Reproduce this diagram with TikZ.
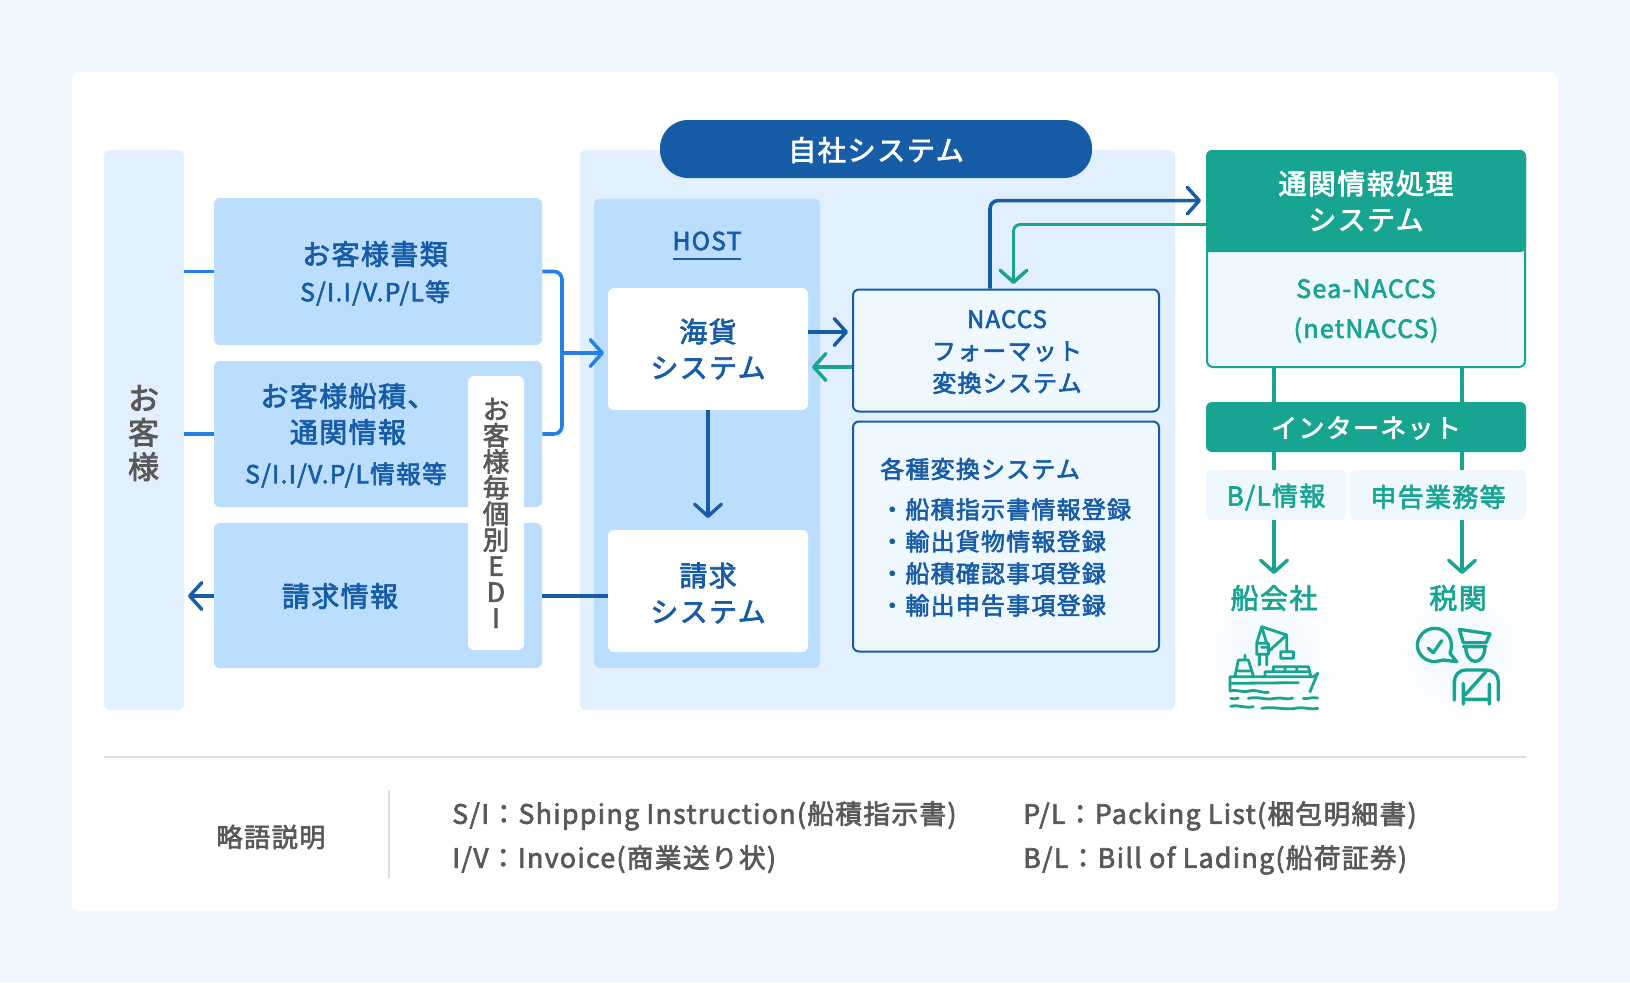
\documentclass[tikz,border=0pt]{standalone}
\usepackage{fontspec}
\usetikzlibrary{arrows.meta,calc}
\setmainfont[LetterSpace=5,FakeBold=2.5]{Noto Sans CJK JP}
\definecolor{pagebg}{HTML}{EFF7FF}
\definecolor{pale}{HTML}{E1EFFF}
\definecolor{boxblue}{HTML}{BBDDFE}
\definecolor{navy}{HTML}{175CA6}
\definecolor{bright}{HTML}{2380E5}
\definecolor{teal}{HTML}{17A592}
\definecolor{greytx}{HTML}{595959}
\definecolor{rulec}{HTML}{DDDDDD}
\newcommand\fpx[2]{\fontsize{\fpeval{#1*0.75}pt}{\fpeval{#2*0.75}pt}\selectfont}
\newcommand\bx[6]{%
  \pgfmathsetmacro\bxw{(#4-#2)*0.75}\pgfmathsetmacro\bxh{(#5-#3)*0.75}%
  \pgfmathsetmacro\bxx{(#4+#2)/2}\pgfmathsetmacro\bxy{(#5+#3)/2}%
  \node[#6,minimum width=\bxw pt,minimum height=\bxh pt,inner sep=0pt] (#1) at (\bxx,\bxy) {};}
\tikzset{
  rr/.style={rectangle,rounded corners=4.5pt},
  palebox/.style={rr,fill=pale},
  bluebox/.style={rr,fill=boxblue},
  whitebox/.style={rr,fill=white},
  navybox/.style={rr,fill=pagebg,draw=navy,line width=1.5pt},
  tealbox/.style={rr,fill=pagebg,draw=teal,line width=1.5pt},
  tealfill/.style={rr,fill=teal},
  lab/.style={inner sep=0pt,align=center,text=navy},
  t24/.style={font=\fpx{24.7}{32}},
  t24s/.style={font=\fpx{24}{32}},
  tip/.style={-{Straight Barb[length=9pt,width=20pt,line width=2.6pt,round]}},
  conn/.style={line width=2.7pt,rounded corners=6pt},
  icon/.style={teal,line width=2.1pt,line cap=round,line join=round},
}
\begin{document}
\begin{tikzpicture}[x=0.75pt,y=-0.75pt]
\useasboundingbox (0,0) rectangle (1630,982);
\fill[pagebg] (0,0) rectangle (1630,982);
\bx{card}{72}{72}{1558}{911}{rr,fill=white}
% customer
\bx{cust}{104}{150}{184}{710}{palebox}
\node[lab,text=greytx,font=\fpx{31}{34.3}] (custt) at (143.5,433) {お\\客\\様};
% system bg
\bx{sys}{580}{150}{1175}{710}{palebox}
\bx{pill}{660}{120}{1092}{178}{rectangle,rounded corners=21pt,fill=navy}
\node[lab,text=white,font=\fpx{28.3}{34}] (pillt) at (876,150) {自社システム};
% left boxes
\bx{b1}{214}{198}{542}{345}{bluebox}
\bx{b2}{214}{361}{542}{507}{bluebox}
\bx{b3}{214}{523}{542}{668}{bluebox}
\bx{edi}{468}{376}{524}{650}{whitebox}
\node[lab,font=\fpx{28}{36}] (b1a) at (375,254) {お客様書類};
\node[lab,t24] (b1b) at (375,293) {S/I.I/V.P/L等};
\node[lab,font=\fpx{28}{36}] (b2a) at (348,414) {お客様船積、\\通関情報};
\node[lab,t24] (b2b) at (346,475) {S/I.I/V.P/L情報等};
\node[lab,font=\fpx{28}{36}] (b3a) at (340,596) {請求情報};
\node[lab,text=greytx,font=\fpx{26.5}{26.1}] (edit) at (496,513) {お\\客\\様\\毎\\個\\別\\E\\D\\I};
% host
\bx{host}{594}{198.5}{820}{668}{bluebox}
\node[lab,t24] (hostt) at (707,241) {HOST};
\coordinate (hu1) at (673,259);\coordinate (hu2) at (741,259);
\draw[navy,line width=1pt] (hu1) -- (hu2);
\bx{kaika}{608}{288}{808}{410}{whitebox}
\bx{seikyu}{608}{530}{808}{652}{whitebox}
\node[lab,font=\fpx{28}{36}] (kaikat) at (708,349) {海貨\\システム};
\node[lab,font=\fpx{28}{36}] (seikyut) at (708,593) {請求\\システム};
% NACCS etc.
\bx{naccs}{853}{289.5}{1159}{411.5}{navybox}
\bx{kakushu}{853}{421.5}{1159}{651.5}{navybox}
\node[lab,t24s] (naccst) at (1007,352) {NACCS\\フォーマット\\変換システム};
\node[lab,t24s,anchor=west] (kakut) at (880,469) {各種変換システム};
\node[lab,t24s,anchor=north west,align=left] (kakul) at (880,498) {・船積指示書情報登録\\・輸出貨物情報登録\\・船積確認事項登録\\・輸出申告事項登録};
% teal
\bx{tsukan}{1207}{151}{1525}{367}{tealbox}
\fill[teal,rounded corners=4.5pt] (1206,252) -- (1206,150) -- (1526,150) -- (1526,252) [sharp corners] -- cycle;
\coordinate (headw) at (1206,224.5);
\node[lab,text=white,font=\fpx{28}{36}] (headt) at (1366,201) {通関情報処理\\システム};
\node[lab,text=teal,font=\fpx{25}{40}] (seat) at (1366,311) {Sea-NACCS\\(netNACCS)};
\bx{inet}{1206}{402}{1526}{452}{tealfill}
\node[lab,text=white,font=\fpx{26}{32}] (inett) at (1366,428) {インターネット};
\bx{bl}{1206}{470}{1346}{520}{rr,fill=pagebg}
\bx{shin}{1350}{470}{1526}{520}{rr,fill=pagebg}
\node[lab,text=teal,font=\fpx{26}{32}] (blt) at (1276,497) {B/L情報};
\node[lab,text=teal,font=\fpx{26}{32}] (shint) at (1438,497) {申告業務等};
\coordinate (tipa) at (1274,574);
\coordinate (tipb) at (1462,574);
\coordinate (tupa) at (1274,367);
\coordinate (tupb) at (1462,367);
\coordinate (imid1) at (1274,402);\coordinate (imid2) at (1462,402);
\coordinate (imid3) at (1274,452);\coordinate (imid4) at (1462,452);
\coordinate (imid5) at (1274,470);\coordinate (imid6) at (1462,470);
\coordinate (imid7) at (1274,520);\coordinate (imid8) at (1462,520);
\draw[teal,line width=2.4pt] (tupa) -- (imid1) (tupb) -- (imid2) (imid3) -- (imid5) (imid4) -- (imid6);
\draw[teal,conn,line width=2.4pt,tip] (imid7) -- (tipa);
\draw[teal,conn,line width=2.4pt,tip] (imid8) -- (tipb);
% glows
\shade[inner color=pagebg,outer color=white] (1268,650) circle (52pt);
\shade[inner color=pagebg,outer color=white] (1460,650) circle (52pt);
\node[lab,text=teal,font=\fpx{28}{32}] (kaisha) at (1274,598) {船会社};
\node[lab,text=teal,font=\fpx{28}{32}] (zeikan) at (1458,598) {税関};
% connectors, left
\draw[bright,line width=2.7pt] (cust.east |- b1.west) -- (b1.west);
\draw[bright,line width=2.7pt] (cust.east |- b2.west) -- (b2.west);
\coordinate (brx) at (562,353);
\coordinate (karr) at (604,353);
\draw[bright,conn] (b1.east) -| (brx) |- (b2.east);
\draw[bright,conn,tip] (brx) -- (karr);
\coordinate (btip) at (188,596);
\draw[navy,conn,tip] (b3.west |- btip) -- (btip);
\draw[navy,line width=2.7pt] (seikyu.west |- btip) -- (b3.east |- btip);
\coordinate (stip) at (708,518);
\draw[navy,conn,tip] (kaika.south) -- (stip);
\coordinate (k1) at (848,332);
\draw[navy,conn,tip] (kaika.east |- k1) -- (k1);
\coordinate (k2) at (812,367);
\draw[teal,conn,line width=2.4pt,tip] (naccs.west |- k2) -- (k2);
\coordinate (nup) at (990,200.6);
\coordinate (ntip) at (1201,200.6);
\draw[navy,conn,tip] (nup |- naccs.north) -- (nup) -- (ntip);
\coordinate (gx) at (1013.5,224.5);
\coordinate (gtip) at (1013.5,284);
\draw[teal,line width=2.2pt,rounded corners=5pt,tip] (headw) -- (gx) -- (gtip);
% ship icon
\begin{scope}[shift={(1220,615)},x=0.25pt,y=-0.25pt]
\draw[icon] (110,85) -- (125,35) -- (140,85) (125,35) -- (200,60) -- (145,110)
  (110,85) rectangle (145,118) (125,97) -- (140,97) (118,118) -- (118,150) (140,118) -- (140,150)
  (200,60) -- (200,110) (182,110) rectangle (220,130)
  (135,183) -- (135,170) -- (160,170) -- (160,155) -- (265,155) -- (272,183)
  (160,170) -- (270,170) (195,155) -- (195,170) (230,155) -- (230,170)
  (45,183) -- (55,135) -- (85,135) -- (100,183) (75,120) -- (75,135) (55,168) -- (95,168)
  (30,185) -- (280,185) -- (293,175) -- (270,230)
  (30,185) -- (30,225) (30,205) -- (235,203)
  (30,228) .. controls (55,222) and (65,234) .. (88,228) .. controls (110,222) and (120,234) .. (145,232)
  (32,250) .. controls (40,253) and (48,252) .. (55,249)
  (85,250) .. controls (120,243) and (135,257) .. (165,250) .. controls (185,245) and (200,257) .. (218,249)
  (250,250) .. controls (262,253) and (277,245) .. (293,249)
  (32,274) .. controls (55,268) and (75,281) .. (100,275)
  (125,280) .. controls (160,273) and (200,287) .. (230,279) .. controls (250,275) and (270,285) .. (293,280);
\end{scope}
% officer icon
\begin{scope}[shift={(1400,610)},x=0.25pt,y=-0.25pt]
\draw[icon,line width=2.5pt] (150,130) .. controls (165,90) and (140,55) .. (105,55) .. controls (70,55) and (52,85) .. (52,105) .. controls (52,135) and (78,155) .. (105,155) -- (130,150) -- (170,155) -- (150,130)
  (85,115) -- (100,128) -- (125,92)
  (178,58) -- (270,72) -- (258,98) -- (190,98) -- cycle
  (190,110) -- (258,110)
  (197,112) .. controls (200,168) and (252,168) .. (255,112)
  (163,270) -- (163,215) .. controls (163,195) and (178,180) .. (197,180) -- (260,180) .. controls (280,180) and (295,195) .. (295,215) -- (295,270)
  (258,185) -- (195,255)
  (190,220) -- (190,282) (190,268) -- (268,268) (268,222) -- (268,282);
\end{scope}
% legend
\coordinate (r1) at (104,757);\coordinate (r2) at (1526,757);
\draw[rulec,line width=1.5pt] (r1) -- (r2);
\coordinate (v1) at (389,790);\coordinate (v2) at (389,878);
\draw[rulec,line width=1.5pt] (v1) -- (v2);
\node[lab,text=greytx,font=\fpx{26.3}{32}] (ry) at (271,837) {略語説明};
\node[lab,text=greytx,font=\fpx{26.7}{44},anchor=north west,align=left] (lg1) at (452,801) {S/I：Shipping Instruction(船積指示書)\\I/V：Invoice(商業送り状)};
\node[lab,text=greytx,font=\fpx{26.7}{44},anchor=north west,align=left] (lg2) at (1023,801) {P/L：Packing List(梱包明細書)\\B/L：Bill of Lading(船荷証券)};
\end{tikzpicture}
\end{document}
